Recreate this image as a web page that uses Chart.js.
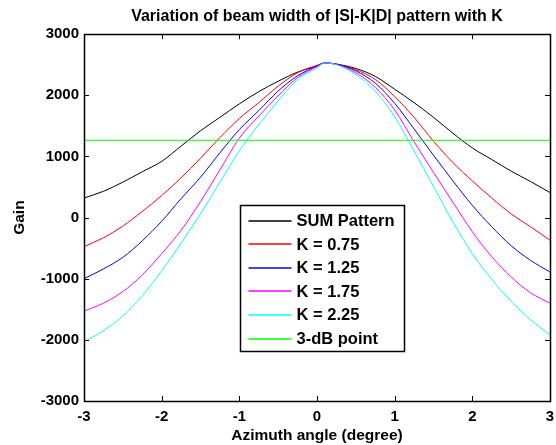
<!DOCTYPE html>
<html>
<head>
<meta charset="utf-8">
<script src="https://cdn.jsdelivr.net/npm/chart.js@4.4.1/dist/chart.umd.min.js"></script>
<style>
    html, body { margin: 0; padding: 0; background: #fff; }
    #wrap { width: 556px; height: 445px; position: relative; }
</style>
</head>
<body>
<div id="wrap"><canvas id="beamChart"></canvas></div>
<script>
// azimuth angle (degree)
const azimuth = [-3, -2.75, -2.5, -2.25, -2, -1.75, -1.5, -1.25, -1, -0.75, -0.5, -0.25, 0,
    0.1, 0.25, 0.5, 0.75, 1, 1.25, 1.5, 1.75, 2, 2.25, 2.5, 2.75, 3];

const sumPattern = [320, 430, 580, 750, 920, 1170, 1420, 1640, 1860, 2060, 2230, 2380, 2480,
    2530, 2510, 2440, 2310, 2100, 1880, 1640, 1380, 1140, 950, 760, 590, 410];
const k075 = [-475, -330, -140, 100, 360, 650, 970, 1310, 1620, 1880, 2150, 2370, 2490,
    2530, 2510, 2420, 2260, 1980, 1640, 1250, 900, 600, 320, 60, -150, -370];
const k125 = [-1000, -840, -650, -380, -60, 310, 660, 1060, 1440, 1750, 2070, 2320, 2480,
    2530, 2510, 2400, 2200, 1870, 1450, 1020, 600, 200, -150, -460, -700, -890];
const k175 = [-1530, -1400, -1210, -940, -590, -210, 260, 780, 1300, 1660, 1990, 2290, 2470,
    2530, 2505, 2370, 2130, 1760, 1240, 740, 250, -230, -640, -970, -1230, -1400];
const k225 = [-2030, -1850, -1610, -1280, -870, -420, 60, 580, 1090, 1520, 1910, 2260, 2450,
    2530, 2500, 2340, 2070, 1650, 1090, 510, -70, -590, -1010, -1370, -1670, -1920];

const threeDbLevel = 1265;

const seriesLabels = ["SUM Pattern", "K = 0.75", "K = 1.25", "K = 1.75", "K = 2.25", "3-dB point"];
const seriesColors = ["#000000", "#ff0000", "#0000ff", "#ff00ff", "#00ffff", "#00ff00"];

const xTicks = [-3, -2, -1, 0, 1, 2, 3];
const yTicks = [-3000, -2000, -1000, 0, 1000, 2000, 3000];

const FONT = "'Liberation Sans', Arial, Helvetica, sans-serif";

function toPoints(vals) {
    return vals.map((v, i) => ({ x: azimuth[i], y: v }));
}

const allSeries = [sumPattern, k075, k125, k175, k225];
const datasets = allSeries.map((vals, i) => ({
    label: seriesLabels[i],
    data: toPoints(vals),
    borderColor: seriesColors[i],
    borderWidth: 1,
    pointRadius: 0,
    cubicInterpolationMode: "monotone",
    order: 6 - i
}));
datasets.push({
    label: seriesLabels[5],
    data: [{ x: xTicks[0], y: threeDbLevel }, { x: xTicks[xTicks.length - 1], y: threeDbLevel }],
    borderColor: seriesColors[5],
    borderWidth: 1,
    pointRadius: 0,
    order: 0
});

// box, inward ticks and the legend (MATLAB style)
const matlabAxes = {
    id: "matlabAxes",
    afterDatasetsDraw(chart) {
        const { ctx, chartArea: a, scales } = chart;
        const tl = 5;
        ctx.save();
        ctx.strokeStyle = "#000";
        ctx.lineWidth = 1;
        ctx.beginPath();
        xTicks.forEach(t => {
            const px = Math.round(scales.x.getPixelForValue(t)) + 0.5;
            ctx.moveTo(px, a.bottom); ctx.lineTo(px, a.bottom - tl);
            ctx.moveTo(px, a.top); ctx.lineTo(px, a.top + tl);
        });
        yTicks.forEach(t => {
            const py = Math.round(scales.y.getPixelForValue(t)) + 0.5;
            ctx.moveTo(a.left, py); ctx.lineTo(a.left + tl, py);
            ctx.moveTo(a.right, py); ctx.lineTo(a.right - tl, py);
        });
        ctx.stroke();
        ctx.lineWidth = 1.5;
        ctx.strokeRect(Math.round(a.left) + 0.5, Math.round(a.top) + 0.5,
            Math.round(a.right - a.left), Math.round(a.bottom - a.top));

        // legend box
        const lx = Math.round(a.left + (a.right - a.left) * 0.335) + 0.5;
        const ly = Math.round(a.top + (a.bottom - a.top) * 0.465) + 0.5;
        const lw = 164, lh = 146;
        ctx.fillStyle = "#fff";
        ctx.fillRect(lx, ly, lw, lh);
        ctx.lineWidth = 1.5;
        ctx.strokeStyle = "#000";
        ctx.strokeRect(lx, ly, lw, lh);
        ctx.font = "bold 16.5px " + FONT;
        ctx.textBaseline = "middle";
        ctx.textAlign = "left";
        chart.data.datasets.forEach((ds, i) => {
            const ry = ly + 15 + i * 23.6;
            ctx.strokeStyle = ds.borderColor;
            ctx.lineWidth = 1.5;
            ctx.beginPath();
            ctx.moveTo(lx + 8, Math.round(ry));
            ctx.lineTo(lx + 51, Math.round(ry));
            ctx.stroke();
            ctx.fillStyle = "#000";
            ctx.fillText(ds.label, lx + 56, ry + 1);
        });
        ctx.restore();
    }
};

new Chart(document.getElementById("beamChart"), {
    type: "line",
    data: { datasets },
    options: {
        responsive: true,
        maintainAspectRatio: false,
        animation: false,
        layout: { padding: { left: 0, right: 6, top: 0, bottom: 0 } },
        plugins: {
            legend: { display: false },
            tooltip: { enabled: false },
            title: {
                display: true,
                fullSize: false,
                text: "Variation of beam width of |S|-K|D| pattern with K",
                color: "#000",
                font: { family: FONT, size: 16, weight: "bold" },
                padding: { top: 7, bottom: 8 }
            }
        },
        scales: {
            x: {
                type: "linear",
                min: -3,
                max: 3,
                grid: { display: false, drawTicks: false },
                border: { display: false },
                afterFit: s => { s.height = 44; s.paddingLeft = 0; s.paddingRight = 0; },
                afterBuildTicks: s => { s.ticks = xTicks.map(v => ({ value: v })); },
                ticks: {
                    color: "#000",
                    padding: 7,
                    maxRotation: 0,
                    font: { family: FONT, size: 15, weight: "bold" },
                    callback: v => String(v)
                },
                title: {
                    display: true,
                    text: "Azimuth angle (degree)",
                    color: "#000",
                    font: { family: FONT, size: 15.5, weight: "bold" },
                    padding: { top: 0, bottom: 0 }
                }
            },
            y: {
                min: -3000,
                max: 3000,
                grid: { display: false, drawTicks: false },
                border: { display: false },
                afterFit: s => { s.width = 84; },
                afterBuildTicks: s => { s.ticks = yTicks.map(v => ({ value: v })); },
                ticks: {
                    color: "#000",
                    padding: 5,
                    font: { family: FONT, size: 15, weight: "bold" },
                    callback: v => String(v)
                },
                title: {
                    display: true,
                    text: "Gain",
                    color: "#000",
                    font: { family: FONT, size: 15.5, weight: "bold" },
                    padding: { top: 10, bottom: 0 }
                }
            }
        }
    },
    plugins: [matlabAxes]
});
</script>
</body>
</html>
